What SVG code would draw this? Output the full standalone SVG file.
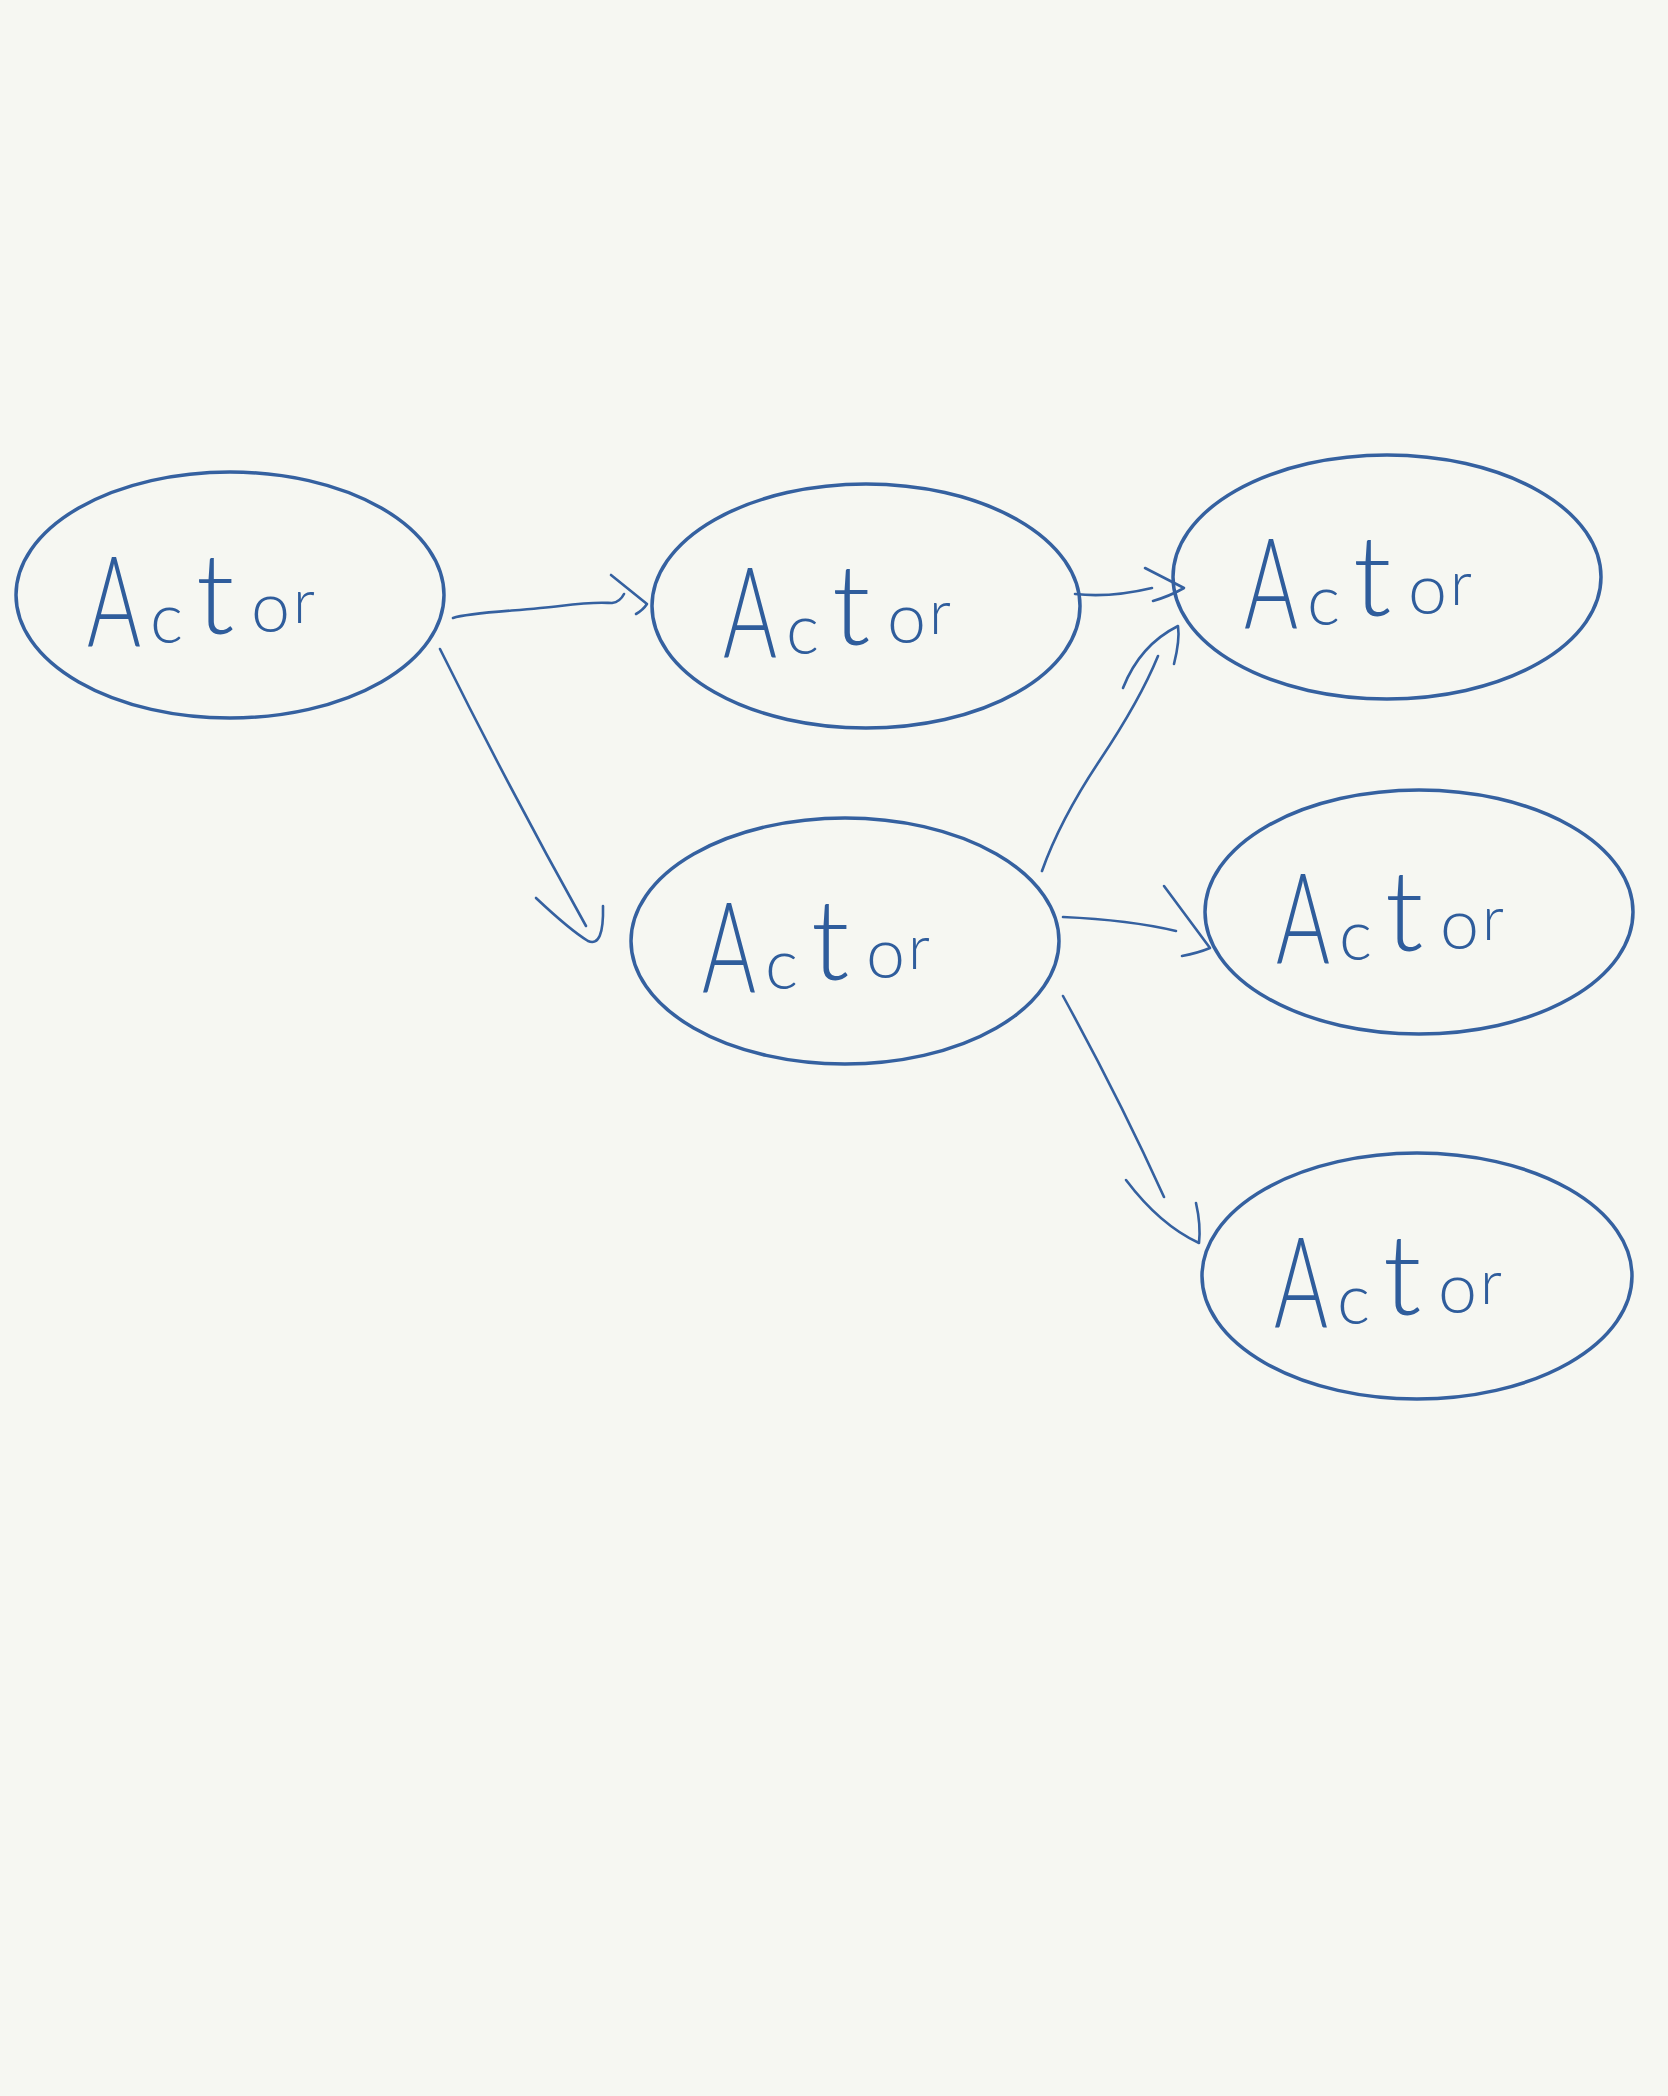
<svg xmlns="http://www.w3.org/2000/svg" width="1668" height="2096" viewBox="0 0 1668 2096">
<defs>
<style>
.node ellipse{fill:none;stroke:#3561a0;stroke-width:3.5}
.lbl{fill:#2f5d9c;font-family:Lato,Inter,"Open Sans",sans-serif;font-weight:300}
.a{font-size:126px}
.c{font-size:70px}
.t{font-size:112px}
.o{font-size:70px}
.r{font-size:62px}
.edge path{fill:none;stroke:#3561a0;stroke-width:2.6;stroke-linecap:round;stroke-linejoin:round}
</style>
</defs>
<rect width="1668" height="2096" fill="#f6f7f2"/>
<g id="node1" class="node" transform="translate(230,595)">
<ellipse cx="0" cy="0" rx="214" ry="123"/>
<text class="lbl"><tspan class="a" x="-143" y="52" textLength="54" lengthAdjust="spacingAndGlyphs">A</tspan><tspan class="c" x="-80" y="48">c</tspan><tspan class="t" x="-34" y="39">t</tspan><tspan class="o" x="21" y="37">o</tspan><tspan class="r" x="63" y="28">r</tspan></text>
</g>
<g id="node2" class="node" transform="translate(866,606)">
<ellipse cx="0" cy="0" rx="214" ry="122"/>
<text class="lbl"><tspan class="a" x="-143" y="52" textLength="54" lengthAdjust="spacingAndGlyphs">A</tspan><tspan class="c" x="-80" y="48">c</tspan><tspan class="t" x="-34" y="39">t</tspan><tspan class="o" x="21" y="37">o</tspan><tspan class="r" x="63" y="28">r</tspan></text>
</g>
<g id="node3" class="node" transform="translate(1387,577)">
<ellipse cx="0" cy="0" rx="214" ry="122"/>
<text class="lbl"><tspan class="a" x="-143" y="52" textLength="54" lengthAdjust="spacingAndGlyphs">A</tspan><tspan class="c" x="-80" y="48">c</tspan><tspan class="t" x="-34" y="39">t</tspan><tspan class="o" x="21" y="37">o</tspan><tspan class="r" x="63" y="28">r</tspan></text>
</g>
<g id="node4" class="node" transform="translate(845,941)">
<ellipse cx="0" cy="0" rx="214" ry="123"/>
<text class="lbl"><tspan class="a" x="-143" y="52" textLength="54" lengthAdjust="spacingAndGlyphs">A</tspan><tspan class="c" x="-80" y="48">c</tspan><tspan class="t" x="-34" y="39">t</tspan><tspan class="o" x="21" y="37">o</tspan><tspan class="r" x="63" y="28">r</tspan></text>
</g>
<g id="node5" class="node" transform="translate(1419,912)">
<ellipse cx="0" cy="0" rx="214" ry="122"/>
<text class="lbl"><tspan class="a" x="-143" y="52" textLength="54" lengthAdjust="spacingAndGlyphs">A</tspan><tspan class="c" x="-80" y="48">c</tspan><tspan class="t" x="-34" y="39">t</tspan><tspan class="o" x="21" y="37">o</tspan><tspan class="r" x="63" y="28">r</tspan></text>
</g>
<g id="node6" class="node" transform="translate(1417,1276)">
<ellipse cx="0" cy="0" rx="215" ry="123"/>
<text class="lbl"><tspan class="a" x="-143" y="52" textLength="54" lengthAdjust="spacingAndGlyphs">A</tspan><tspan class="c" x="-80" y="48">c</tspan><tspan class="t" x="-34" y="39">t</tspan><tspan class="o" x="21" y="37">o</tspan><tspan class="r" x="63" y="28">r</tspan></text>
</g>
<g id="connectors" class="edge">
<path d="M453,618 C470,612 520,611 560,606 S605,603 612,603 Q620,602 624,594"/>
<path d="M611,575 L647,604 Q643,610 636,614"/>
<path d="M440,649 Q510,790 586,926"/>
<path d="M536,898 Q570,930 588,941 Q604,948 603,906"/>
<path d="M1075,594 Q1110,598 1152,588"/>
<path d="M1145,568 L1184,588 Q1170,596 1153,601"/>
<path d="M1042,871 Q1060,820 1100,760 Q1140,700 1158,656"/>
<path d="M1123,688 Q1140,645 1178,626 Q1180,640 1174,664"/>
<path d="M1063,917 Q1130,920 1176,931"/>
<path d="M1164,886 L1210,948 Q1198,953 1182,956"/>
<path d="M1063,996 Q1120,1100 1164,1197"/>
<path d="M1126,1180 Q1160,1225 1199,1243 Q1201,1225 1196,1203"/>
</g>
</svg>
